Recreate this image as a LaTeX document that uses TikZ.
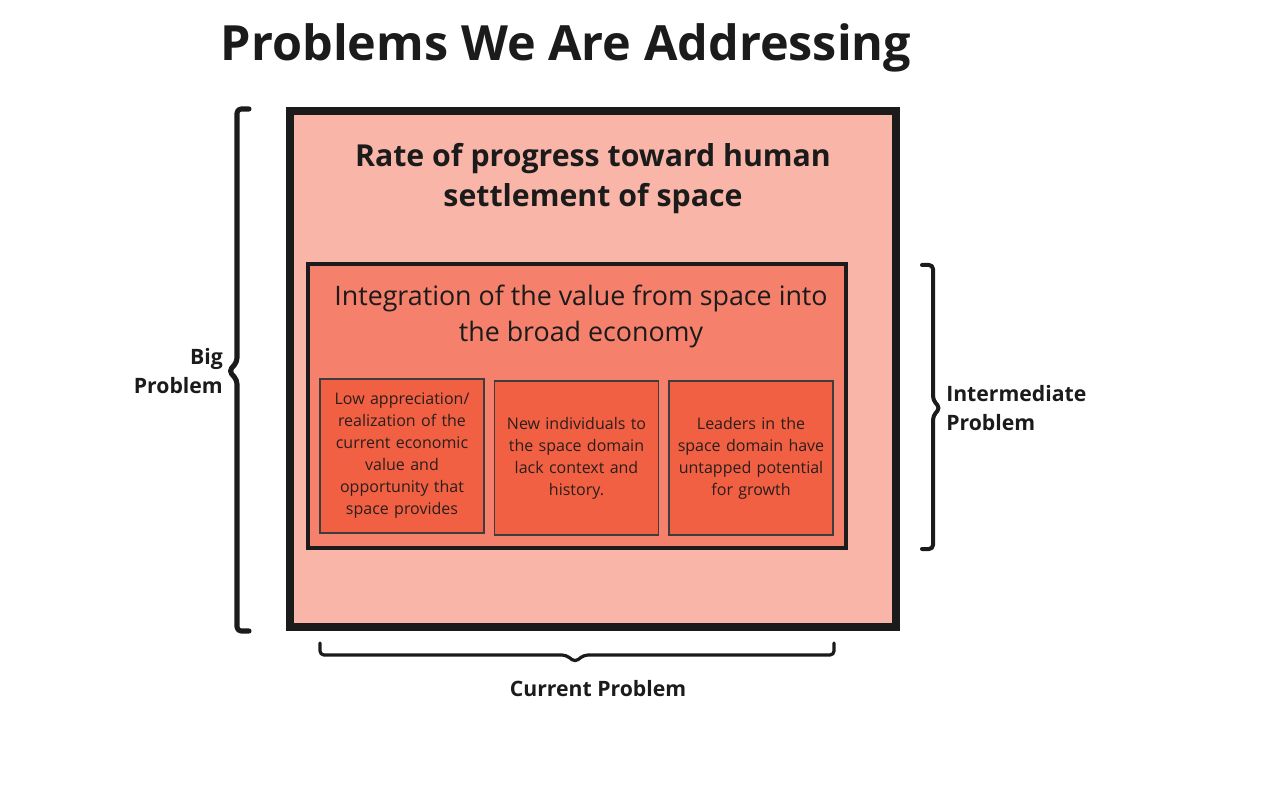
\documentclass[tikz,border=0pt]{standalone}
\usepackage{fontspec}
\setmainfont{Open Sans}
\definecolor{ink}{HTML}{1B1B1B}
\definecolor{cardink}{HTML}{2A1E1B}
\definecolor{outerfill}{HTML}{F9B5A8}
\definecolor{innerfill}{HTML}{F5806C}
\definecolor{cardfill}{HTML}{F26044}
\tikzset{
  bracepath/.style={draw=ink, line cap=round, line join=round, rounded corners=3},
  cardbox/.style={draw=ink!85, line width=0.9pt, fill=cardfill, minimum width=164*0.75pt, minimum height=154*0.75pt, inner sep=0pt, align=center, font=\fontsize{12}{16.5}\selectfont, text=cardink, text width=150*0.75pt},
  sidelabel/.style={font=\bfseries\fontsize{15.9}{22}\selectfont, text=ink, inner sep=0pt},
}
\begin{document}
\begin{tikzpicture}[x=0.75pt,y=-0.75pt]
\useasboundingbox (0,0) rectangle (1263,791);
\fill[white] (0,0) rectangle (1263,791);
% title
\node[font=\bfseries\fontsize{36.4}{44}\selectfont, text=ink, inner sep=0pt] (title) at (566,48) {Problems We Are Addressing};
% outer box
\draw[ink, line width=6pt, fill=outerfill] (290,111) rectangle (896,627);
\node[font=\bfseries\fontsize{22.7}{30}\selectfont, text=ink, align=center, inner sep=0pt] (big) at (593,179) {Rate of progress toward human\\settlement of space};
% inner box
\draw[ink, line width=3pt, fill=innerfill] (308,264) rectangle (846,548);
\node[font=\fontsize{20.1}{27}\selectfont, text=ink, align=center, inner sep=0pt] (inter) at (581,316) {Integration of the value from space into\\the broad economy};
% cards
\node[cardbox] (c1) at (402,456) {Low appreciation/\\realization of the\\current economic\\value and\\opportunity that\\space provides};
\node[cardbox] (c2) at (576.5,458) {New individuals to\\the space domain\\lack context and\\history.};
\node[cardbox] (c3) at (751,458) {Leaders in the\\space domain have\\untapped potential\\for growth};
% left brace
\draw[bracepath, line width=3.8pt] (249,109) -- (237,109) -- (237,362) -- (229,371) -- (237,380) -- (237,631) -- (249,631);
\node[sidelabel, align=right, anchor=east] (bigl) at (223,371) {Big\\Problem};
% right brace
\draw[bracepath, line width=3pt] (922,265) -- (933,265) -- (933,400) -- (940,408) -- (933,416) -- (933,549) -- (922,549);
\node[sidelabel, align=left, anchor=west] (interl) at (946,408) {Intermediate\\Problem};
% bottom brace
\draw[bracepath, line width=2.4pt] (320,643) -- (320,655) -- (566,655) -- (575,662) -- (584,655) -- (834,655) -- (834,643);
\node[sidelabel] (curl) at (598,689) {Current Problem};
\end{tikzpicture}
\end{document}
